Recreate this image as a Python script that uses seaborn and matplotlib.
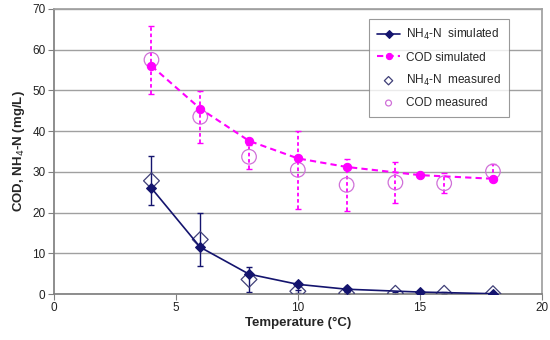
import matplotlib
matplotlib.use("Agg")
import matplotlib.pyplot as plt
import seaborn as sns
import pandas as pd
import numpy as np

# Data
temp_sim = [4, 6, 8, 10, 12, 15, 18]
nh4_sim = [26.0, 11.5, 4.9, 2.4, 1.2, 0.5, 0.1]
cod_sim = [56.0, 45.5, 37.6, 33.3, 31.2, 29.2, 28.3]

temp_meas = [4, 6, 8, 10, 12, 14, 16, 18]
nh4_meas = [27.8, 13.4, 3.6, 0.7, 0.2, 0.2, 0.2, 0.1]
nh4_err = [6.0, 6.4, 3.1, 0.4, 0.2, 0.2, 0.2, 0.1]
cod_meas = [57.5, 43.5, 33.7, 30.5, 26.8, 27.4, 27.2, 30.1]
cod_err = [8.3, 6.3, 3.0, 9.6, 6.3, 5.1, 2.5, 1.8]

navy = "#14146e"
mag = "#ff00ff"
pink = "#d070d8"

sns.set_theme(style="white")
plt.rcParams["font.family"] = ["Liberation Sans", "DejaVu Sans"]

fig = plt.figure(figsize=(5.5, 3.4), dpi=100)
ax = fig.add_axes([0.098, 0.135, 0.887, 0.839])

df_sim = pd.DataFrame({"T": temp_sim, "NH4": nh4_sim, "COD": cod_sim})
df_meas = pd.DataFrame({"T": temp_meas, "NH4": nh4_meas, "COD": cod_meas,
                        "NH4e": nh4_err, "CODe": cod_err})

# error bars
ax.errorbar(df_meas["T"], df_meas["NH4"], yerr=df_meas["NH4e"], fmt="none",
            ecolor=navy, elinewidth=1.0, capsize=2.5, capthick=1.0, zorder=2)
eb = ax.errorbar(df_meas["T"], df_meas["COD"], yerr=df_meas["CODe"], fmt="none",
                 ecolor=mag, elinewidth=1.3, capsize=2.5, capthick=1.0, zorder=2)
eb[2][0].set_linestyle((0, (2, 1.5)))

sns.lineplot(data=df_sim, x="T", y="NH4", ax=ax, color=navy, marker="D",
             markersize=5, markeredgecolor=navy, linewidth=1.2,
             label="NH$_4$-N  simulated", zorder=4)
sns.lineplot(data=df_sim, x="T", y="COD", ax=ax, color=mag, marker="o",
             markersize=6, markeredgecolor=mag, linewidth=1.5, linestyle=(0, (3, 2)),
             label="COD simulated", zorder=4)
sns.scatterplot(data=df_meas, x="T", y="NH4", ax=ax, marker="D", s=65,
                facecolor="none", edgecolor="#404078", linewidth=0.9,
                label="NH$_4$-N  measured", zorder=3)
sns.scatterplot(data=df_meas, x="T", y="COD", ax=ax, marker="o", s=110,
                facecolor="none", edgecolor=pink, linewidth=0.9,
                label="COD measured", zorder=3)

ax.set_xlim(0, 20)
ax.set_ylim(0, 70)
ax.set_xticks([0, 5, 10, 15, 20])
ax.set_yticks(range(0, 71, 10))
ax.yaxis.grid(True, color="#a0a0a0", linewidth=1.0)
ax.set_axisbelow(True)
for s in ["left", "bottom"]:
    ax.spines[s].set_color("#808080")
for s in ["top", "right"]:
    ax.spines[s].set_color("#a0a0a0")
ax.tick_params(axis="both", which="major", length=4, width=0.8, color="#808080",
               labelsize=8.5, labelcolor="#222222", bottom=True, left=True, pad=2)
ax.set_xlabel("Temperature (°C)", fontsize=9.5, fontweight="bold", labelpad=2)
ax.set_ylabel("COD, NH$_4$-N (mg/L)", fontsize=9.5, fontweight="bold", labelpad=4)

leg = ax.legend(loc="upper right", bbox_to_anchor=(0.945, 0.985), fontsize=8.5,
                frameon=True, fancybox=False, edgecolor="#808080",
                handlelength=1.9, labelspacing=0.78, borderpad=0.7,
                handletextpad=0.5)
leg.get_frame().set_linewidth(0.8)
for h in leg.legend_handles:
    if hasattr(h, "set_sizes"):
        h.set_sizes([18])
    elif hasattr(h, "set_markersize"):
        h.set_markersize(4.5)

fig.savefig("out.png", dpi=100)
